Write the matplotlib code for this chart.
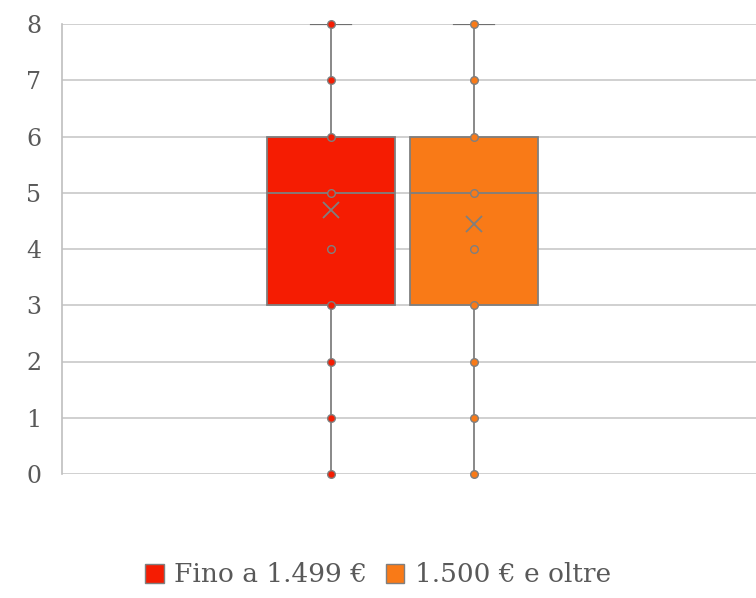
import matplotlib
matplotlib.use("Agg")
import matplotlib.pyplot as plt
from matplotlib.patches import Patch

series_names = ["Fino a 1.499 €", "1.500 € e oltre"]
series_colors = ["#F51C02", "#F97A17"]
q1_values = [3, 3]
median_values = [5, 5]
q3_values = [6, 6]
whisker_low = [0, 0]
whisker_high = [8, 8]
mean_values = [4.7, 4.45]
inner_points = [[0, 1, 2, 3, 4, 5, 6, 7, 8], [0, 1, 2, 3, 4, 5, 6, 7, 8]]
y_ticks = [0, 1, 2, 3, 4, 5, 6, 7, 8]

plt.rcParams["font.family"] = ["DejaVu Serif"]
text_color = "#595959"
edge_color = "#7F7F7F"

fig = plt.figure(figsize=(7.56, 5.98), dpi=100)
ax = fig.add_axes([62 / 756, 1 - 474 / 598, 1 - 62 / 756, 450 / 598])

positions = [(331 - 62) / 694, (474 - 62) / 694]
box_width = 128 / 694

for i in range(len(series_names)):
    stats = [{
        "q1": q1_values[i], "med": median_values[i], "q3": q3_values[i],
        "whislo": whisker_low[i], "whishi": whisker_high[i],
        "mean": mean_values[i], "fliers": [],
    }]
    parts = ax.bxp(
        stats, positions=[positions[i]], widths=box_width, patch_artist=True,
        showmeans=True, manage_ticks=False,
        boxprops=dict(facecolor=series_colors[i], edgecolor=edge_color, linewidth=1.3),
        medianprops=dict(color=edge_color, linewidth=1.3),
        whiskerprops=dict(color=edge_color, linewidth=1.3),
        capprops=dict(color="#6F6F6F", linewidth=1.6),
        capwidths=40 / 694,
        meanprops=dict(marker="x", markeredgecolor=edge_color, markersize=11, markeredgewidth=1.3),
        zorder=3,
    )
    # lower cap sits on the axis line and is not visible
    parts["caps"][0].set_visible(False)
    ax.plot([positions[i]] * len(inner_points[i]), inner_points[i], linestyle="none",
            marker="o", markersize=5.5, markerfacecolor=series_colors[i],
            markeredgecolor=edge_color, markeredgewidth=1.0, zorder=4, clip_on=False)

ax.set_xlim(0, 1)
ax.set_ylim(0, 8)
ax.set_yticks(y_ticks)
ax.set_yticklabels([str(t) for t in y_ticks])
ax.set_xticks([])
ax.grid(axis="y", color="#C8C8C8", linewidth=1.2, zorder=0)
ax.set_axisbelow(True)
for side in ["top", "right", "bottom"]:
    ax.spines[side].set_visible(False)
ax.spines["left"].set_color("#BFBFBF")
ax.spines["left"].set_linewidth(1.2)
ax.tick_params(axis="y", length=0, pad=15, labelsize=17, labelcolor=text_color)

handles = [Patch(facecolor=c, edgecolor=edge_color, linewidth=1.0) for c in series_colors]
fig.legend(handles, series_names, loc="center", bbox_to_anchor=(0.5, 1 - 575 / 598),
           ncol=2, frameon=False, fontsize=19, labelcolor=text_color,
           handlelength=0.7, handleheight=0.7, handletextpad=0.4, columnspacing=0.7)

fig.savefig("out.png", dpi=100)
